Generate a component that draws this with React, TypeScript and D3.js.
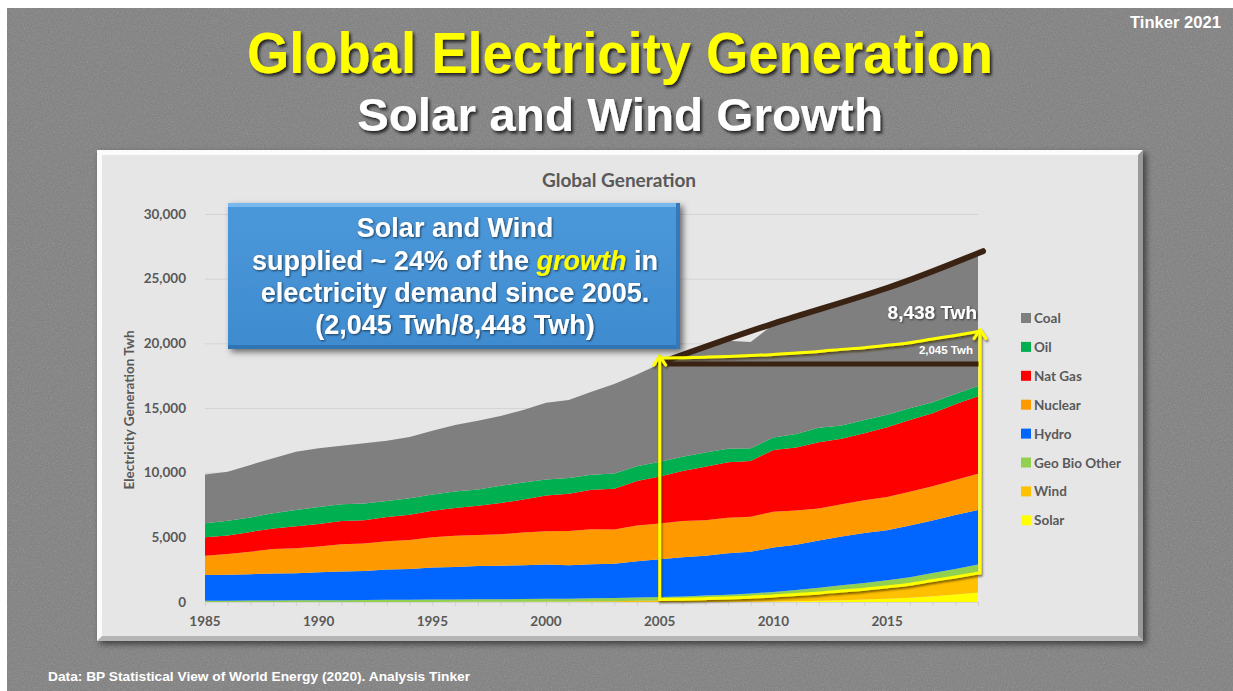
import React, { useEffect, useRef } from "react";
import * as d3 from "d3";

// Global electricity generation by source, TWh
const years = [
  1985, 1986, 1987, 1988, 1989, 1990, 1991, 1992, 1993, 1994, 1995, 1996,
  1997, 1998, 1999, 2000, 2001, 2002, 2003, 2004, 2005, 2006, 2007, 2008,
  2009, 2010, 2011, 2012, 2013, 2014, 2015, 2016, 2017, 2018, 2019,
];
const solar = [
  0, 0, 0, 0, 0, 0, 0, 0, 0, 0, 0, 0, 0, 0, 0, 1, 2, 2, 3, 3, 4, 6, 8, 12, 20,
  34, 65, 100, 140, 195, 260, 330, 445, 585, 725,
];
const wind = [
  0, 0, 1, 1, 2, 4, 4, 5, 6, 7, 8, 10, 12, 16, 21, 31, 38, 52, 63, 85, 104, 133,
  171, 220, 277, 346, 437, 523, 639, 716, 831, 962, 1138, 1270, 1430,
];
const geoBioOther = [
  100, 105, 110, 115, 125, 135, 140, 150, 160, 170, 180, 185, 195, 200, 205,
  215, 215, 230, 245, 260, 280, 295, 315, 335, 360, 400, 430, 470, 510, 550,
  590, 620, 660, 700, 740,
];
const hydro = [
  1980, 2010, 2040, 2090, 2090, 2160, 2220, 2240, 2340, 2370, 2480, 2520, 2570,
  2590, 2610, 2650, 2590, 2640, 2650, 2810, 2920, 3030, 3080, 3210, 3230, 3430,
  3490, 3660, 3780, 3870, 3870, 4000, 4060, 4180, 4220,
];
const nuclear = [
  1490, 1590, 1730, 1890, 1940, 2000, 2100, 2120, 2190, 2240, 2330, 2410, 2400,
  2440, 2530, 2580, 2650, 2700, 2640, 2760, 2770, 2800, 2750, 2740, 2700, 2770,
  2650, 2470, 2490, 2540, 2570, 2610, 2640, 2700, 2800,
];
const natGas = [
  1430, 1440, 1540, 1590, 1700, 1730, 1790, 1800, 1870, 1950, 2050, 2150, 2270,
  2400, 2560, 2760, 2880, 3060, 3160, 3430, 3620, 3860, 4140, 4290, 4310, 4770,
  4870, 5120, 5070, 5170, 5400, 5550, 5650, 5850, 6000,
];
const oil = [
  1090, 1130, 1120, 1180, 1250, 1320, 1300, 1300, 1240, 1280, 1260, 1260, 1260,
  1340, 1310, 1240, 1220, 1160, 1180, 1150, 1150, 1110, 1100, 1050, 1000, 970,
  1050, 1130, 1020, 1030, 950, 900, 850, 800, 780,
];
const coal = [
  3760, 3800, 4060, 4250, 4510, 4530, 4530, 4650, 4670, 4740, 4940, 5160, 5310,
  5390, 5600, 5920, 6030, 6410, 6910, 7100, 7550, 7770, 8290, 8340, 8200, 8730,
  9160, 9180, 9650, 9780, 9730, 9880, 10060, 10420, 10200,
];

// stacking order, bottom to top
const seriesNames = ["Solar", "Wind", "Geo Bio Other", "Hydro", "Nuclear", "Nat Gas", "Oil", "Coal"];
const seriesValues = [solar, wind, geoBioOther, hydro, nuclear, natGas, oil, coal];
const legendNames = ["Coal", "Oil", "Nat Gas", "Nuclear", "Hydro", "Geo Bio Other", "Wind", "Solar"];
const colors = {
  Coal: "#7f7f7f",
  Oil: "#00b050",
  "Nat Gas": "#ff0000",
  Nuclear: "#ff9900",
  Hydro: "#0066ff",
  "Geo Bio Other": "#92d050",
  Wind: "#ffc000",
  Solar: "#ffff00",
};

const yTicks = [0, 5000, 10000, 15000, 20000, 25000, 30000];
const xTicks = [1985, 1990, 1995, 2000, 2005, 2010, 2015];
const growthStart = 2005;
const growthEnd = 2019;
// years the hand-drawn demand trend line passes through
const trendYears = [2005, 2010, 2015, 2019];
const growthTotalLabel = "8,438 Twh";
const growthSolarWindLabel = "2,045 Twh";

const App = () => {
  const ref = useRef(null);

  useEffect(() => {
    const W = 1233;
    const H = 691;
    const svg = d3.select(ref.current);
    svg.selectAll("*").remove();

    const chartFont = "Lato, 'Open Sans', sans-serif";
    const slideFont = "'Liberation Sans', Arial, sans-serif";
    const gray = "#595959";

    // filters
    const defs = svg.append("defs");
    const noise = defs.append("filter").attr("id", "noise").attr("x", 0).attr("y", 0).attr("width", "100%").attr("height", "100%");
    noise.append("feTurbulence").attr("type", "fractalNoise").attr("baseFrequency", 0.7).attr("numOctaves", 3).attr("seed", 4);
    noise.append("feColorMatrix").attr("type", "saturate").attr("values", 0);

    const textShadow = defs.append("filter").attr("id", "tshadow").attr("x", "-5%").attr("y", "-20%").attr("width", "110%").attr("height", "150%");
    textShadow.append("feDropShadow").attr("dx", 2).attr("dy", 2.5).attr("stdDeviation", 1.5).attr("flood-color", "#000").attr("flood-opacity", 0.75);

    const softShadow = defs.append("filter").attr("id", "sshadow").attr("x", "-5%").attr("y", "-5%").attr("width", "110%").attr("height", "115%");
    softShadow.append("feDropShadow").attr("dx", 3).attr("dy", 3).attr("stdDeviation", 3).attr("flood-color", "#000").attr("flood-opacity", 0.55);

    const lineShadow = defs.append("filter").attr("id", "lshadow").attr("x", "-10%").attr("y", "-10%").attr("width", "120%").attr("height", "130%");
    lineShadow.append("feDropShadow").attr("dx", 1).attr("dy", 2).attr("stdDeviation", 1.2).attr("flood-color", "#3a2a00").attr("flood-opacity", 0.7);

    const smallShadow = defs.append("filter").attr("id", "smshadow").attr("x", "-5%").attr("y", "-20%").attr("width", "110%").attr("height", "150%");
    smallShadow.append("feDropShadow").attr("dx", 1).attr("dy", 1).attr("stdDeviation", 0.8).attr("flood-color", "#000").attr("flood-opacity", 0.6);

    const boxGrad = defs.append("linearGradient").attr("id", "boxgrad").attr("x1", 0).attr("y1", 0).attr("x2", 0).attr("y2", 1);
    boxGrad.append("stop").attr("offset", "0%").attr("stop-color", "#4a98da");
    boxGrad.append("stop").attr("offset", "100%").attr("stop-color", "#3f8bcf");

    // slide background
    svg.append("rect").attr("width", W).attr("height", H).attr("fill", "#ffffff");
    svg.append("rect").attr("x", 7).attr("y", 8).attr("width", W - 7).attr("height", H - 8).attr("fill", "#7f7f7f");
    svg.append("rect").attr("x", 7).attr("y", 8).attr("width", W - 7).attr("height", H - 8)
      .attr("filter", "url(#noise)").attr("opacity", 0.28);

    // slide titles
    svg.append("text").attr("x", 620).attr("y", 73).attr("text-anchor", "middle")
      .attr("font-family", slideFont).attr("font-weight", "bold").attr("font-size", 57)
      .attr("textLength", 746).attr("lengthAdjust", "spacingAndGlyphs")
      .attr("fill", "#ffff00").attr("filter", "url(#tshadow)").text("Global Electricity Generation");
    svg.append("text").attr("x", 620).attr("y", 131).attr("text-anchor", "middle")
      .attr("font-family", slideFont).attr("font-weight", "bold").attr("font-size", 46)
      .attr("textLength", 526).attr("lengthAdjust", "spacingAndGlyphs")
      .attr("fill", "#ffffff").attr("filter", "url(#tshadow)").text("Solar and Wind Growth");
    svg.append("text").attr("x", 1221).attr("y", 28).attr("text-anchor", "end")
      .attr("font-family", slideFont).attr("font-weight", "bold").attr("font-size", 16)
      .attr("textLength", 91).attr("lengthAdjust", "spacingAndGlyphs")
      .attr("fill", "#ffffff").text("Tinker 2021");
    svg.append("text").attr("x", 48).attr("y", 681)
      .attr("font-family", slideFont).attr("font-weight", "bold").attr("font-size", 13)
      .attr("textLength", 422).attr("lengthAdjust", "spacingAndGlyphs")
      .attr("fill", "#ffffff").text("Data: BP Statistical View of World Energy (2020). Analysis Tinker");

    // chart panel with bevel
    const panel = svg.append("g");
    const px0 = 97, py0 = 150, px1 = 1143, py1 = 641, bev = 5;
    panel.append("rect").attr("x", px0).attr("y", py0).attr("width", px1 - px0).attr("height", py1 - py0)
      .attr("fill", "#fbfbfb").attr("filter", "url(#sshadow)");
    panel.append("polygon")
      .attr("points", `${px1},${py0} ${px1},${py1} ${px1 - bev},${py1 - bev} ${px1 - bev},${py0 + bev}`)
      .attr("fill", "#9a9a9a");
    panel.append("polygon")
      .attr("points", `${px0},${py1} ${px1},${py1} ${px1 - bev},${py1 - bev} ${px0 + bev},${py1 - bev}`)
      .attr("fill", "#b5b5b5");
    panel.append("rect").attr("x", px0 + bev).attr("y", py0 + bev)
      .attr("width", px1 - px0 - 2 * bev).attr("height", py1 - py0 - 2 * bev).attr("fill", "#e6e6e6");

    svg.append("text").attr("x", 619).attr("y", 187).attr("text-anchor", "middle")
      .attr("font-family", chartFont).attr("font-weight", "bold").attr("font-size", 19)
      .attr("fill", gray).text("Global Generation");

    // scales
    const x = d3.scaleLinear().domain([1985, 2019]).range([205, 978]);
    const y = d3.scaleLinear().domain([0, 30000]).range([602, 214]);

    // gridlines and y axis
    const yAxis = svg.append("g").attr("transform", "translate(205,0)")
      .call(d3.axisLeft(y).tickValues(yTicks).tickSize(-(978 - 205)).tickPadding(19).tickFormat(d3.format(",")));
    yAxis.select(".domain").remove();
    yAxis.selectAll(".tick line").attr("stroke", "#d4d4d4").attr("stroke-width", 1);
    yAxis.selectAll(".tick text").attr("font-family", chartFont).attr("font-weight", "bold")
      .attr("font-size", 13.5).attr("fill", gray);

    const xAxis = svg.append("g").attr("transform", "translate(0,602)")
      .call(d3.axisBottom(x).tickValues(years).tickSize(4).tickFormat(() => ""));
    xAxis.select(".domain").attr("stroke", "#d4d4d4");
    xAxis.selectAll(".tick line").attr("stroke", "#cfcfcf");
    const xLabels = svg.append("g");
    xTicks.forEach((t) => {
      xLabels.append("text").attr("x", x(t)).attr("y", 626).attr("text-anchor", "middle")
        .attr("font-family", chartFont).attr("font-weight", "bold").attr("font-size", 13.5)
        .attr("fill", gray).text(String(t));
    });

    svg.append("text").attr("transform", "translate(134,410) rotate(-90)").attr("text-anchor", "middle")
      .attr("font-family", chartFont).attr("font-weight", "bold").attr("font-size", 13.5)
      .attr("fill", gray).text("Electricity Generation Twh");

    // stacked areas
    const rows = years.map((yr, i) => {
      const r = { year: yr };
      seriesNames.forEach((n, k) => { r[n] = seriesValues[k][i]; });
      return r;
    });
    const stacked = d3.stack().keys(seriesNames)(rows);
    const area = d3.area()
      .x((d) => x(d.data.year))
      .y0((d) => y(d[0]))
      .y1((d) => y(d[1]));
    svg.append("g").selectAll("path").data(stacked).join("path")
      .attr("d", area).attr("fill", (d) => colors[d.key]);

    // growth annotation (2005 -> 2019)
    const i0 = years.indexOf(growthStart);
    const i1 = years.indexOf(growthEnd);
    const total = stacked[stacked.length - 1];
    const sw = stacked[1]; // solar + wind top
    const level = total[i0][1];
    const idx = d3.range(i0, i1 + 1);

    const trendIdx = trendYears.map((yr) => years.indexOf(yr));
    svg.append("path")
      .attr("d", d3.line().curve(d3.curveNatural)
        .x((i) => x(years[i]) + (i === i1 ? 5 : 0))
        .y((i) => y(total[i][1]) - (i === i1 ? 3 : 1))(trendIdx))
      .attr("fill", "none").attr("stroke", "#3b2314").attr("stroke-width", 6).attr("stroke-linecap", "round");
    svg.append("line").attr("x1", x(growthStart) + 4).attr("x2", x(growthEnd) + 2)
      .attr("y1", y(level)).attr("y2", y(level))
      .attr("stroke", "#3b2314").attr("stroke-width", 5);

    const ann = svg.append("g").attr("filter", "url(#lshadow)")
      .attr("fill", "none").attr("stroke", "#ffff00").attr("stroke-width", 3)
      .attr("stroke-linecap", "round").attr("stroke-linejoin", "round");
    const topY = (i) => y(level + sw[i][1] - sw[i0][1]) - 6;
    const botY = (i) => y(sw[i][1]) - 1;
    ann.append("path").attr("d", d3.line().curve(d3.curveMonotoneX).x((i) => x(years[i])).y(topY)(idx));
    ann.append("path").attr("d", d3.line().curve(d3.curveMonotoneX).x((i) => x(years[i])).y(botY)(idx));
    ann.append("line").attr("x1", x(growthStart)).attr("x2", x(growthStart)).attr("y1", botY(i0)).attr("y2", topY(i0) - 2);
    ann.append("line").attr("x1", x(growthEnd) + 2).attr("x2", x(growthEnd) + 2).attr("y1", botY(i1)).attr("y2", topY(i1) - 2);
    const chevron = (cx, cy) => `M${cx - 6},${cy + 9} L${cx},${cy} L${cx + 6},${cy + 9}`;
    ann.append("path").attr("d", chevron(x(growthStart), topY(i0) - 2));
    ann.append("path").attr("d", chevron(x(growthEnd) + 2, topY(i1) - 2));

    svg.append("text").attr("x", x(growthEnd) - 1).attr("y", 319).attr("text-anchor", "end")
      .attr("font-family", slideFont).attr("font-weight", "bold").attr("font-size", 19)
      .attr("fill", "#ffffff").attr("filter", "url(#smshadow)").text(growthTotalLabel);
    svg.append("text").attr("x", x(growthEnd) - 5).attr("y", 354).attr("text-anchor", "end")
      .attr("font-family", slideFont).attr("font-weight", "bold").attr("font-size", 11.5)
      .attr("fill", "#ffffff").text(growthSolarWindLabel);

    // callout box
    const box = svg.append("g");
    const bx = 228, by = 203, bw = 452, bh = 146;
    box.append("rect").attr("x", bx).attr("y", by).attr("width", bw).attr("height", bh)
      .attr("fill", "url(#boxgrad)").attr("filter", "url(#sshadow)");
    box.append("rect").attr("x", bx).attr("y", by).attr("width", bw).attr("height", 4).attr("fill", "#79b8ee");
    box.append("rect").attr("x", bx).attr("y", by + bh - 4).attr("width", bw).attr("height", 4).attr("fill", "#2f74b3");
    box.append("rect").attr("x", bx + bw - 4).attr("y", by).attr("width", 4).attr("height", bh).attr("fill", "#3479ba");

    const bt = box.append("g").attr("font-family", slideFont).attr("font-weight", "bold")
      .attr("font-size", 27).attr("fill", "#ffffff").attr("text-anchor", "middle")
      .attr("filter", "url(#smshadow)");
    bt.append("text").attr("x", 455).attr("y", 237).text("Solar and Wind");
    const l2 = bt.append("text").attr("x", 455).attr("y", 270);
    l2.append("tspan").text("supplied ~ 24% of the ");
    l2.append("tspan").attr("fill", "#ffff00").attr("font-style", "italic").text("growth");
    l2.append("tspan").text(" in");
    bt.append("text").attr("x", 455).attr("y", 302).text("electricity demand since 2005.");
    bt.append("text").attr("x", 455).attr("y", 334).text("(2,045 Twh/8,448 Twh)");

    // legend
    const legend = svg.append("g").attr("transform", "translate(1021,318)");
    legendNames.forEach((n, i) => {
      const g = legend.append("g").attr("transform", `translate(0,${i * 28.9})`);
      g.append("rect").attr("x", 0).attr("y", -5).attr("width", 10).attr("height", 10).attr("fill", colors[n]);
      g.append("text").attr("x", 13).attr("y", 5).attr("font-family", chartFont).attr("font-weight", "bold")
        .attr("font-size", 13.5).attr("fill", gray).text(n);
    });
  }, []);

  return (
    <svg
      ref={ref}
      width={1233}
      height={691}
      style={{ position: "absolute", left: 0, top: 0, display: "block" }}
    />
  );
};

export default App;
